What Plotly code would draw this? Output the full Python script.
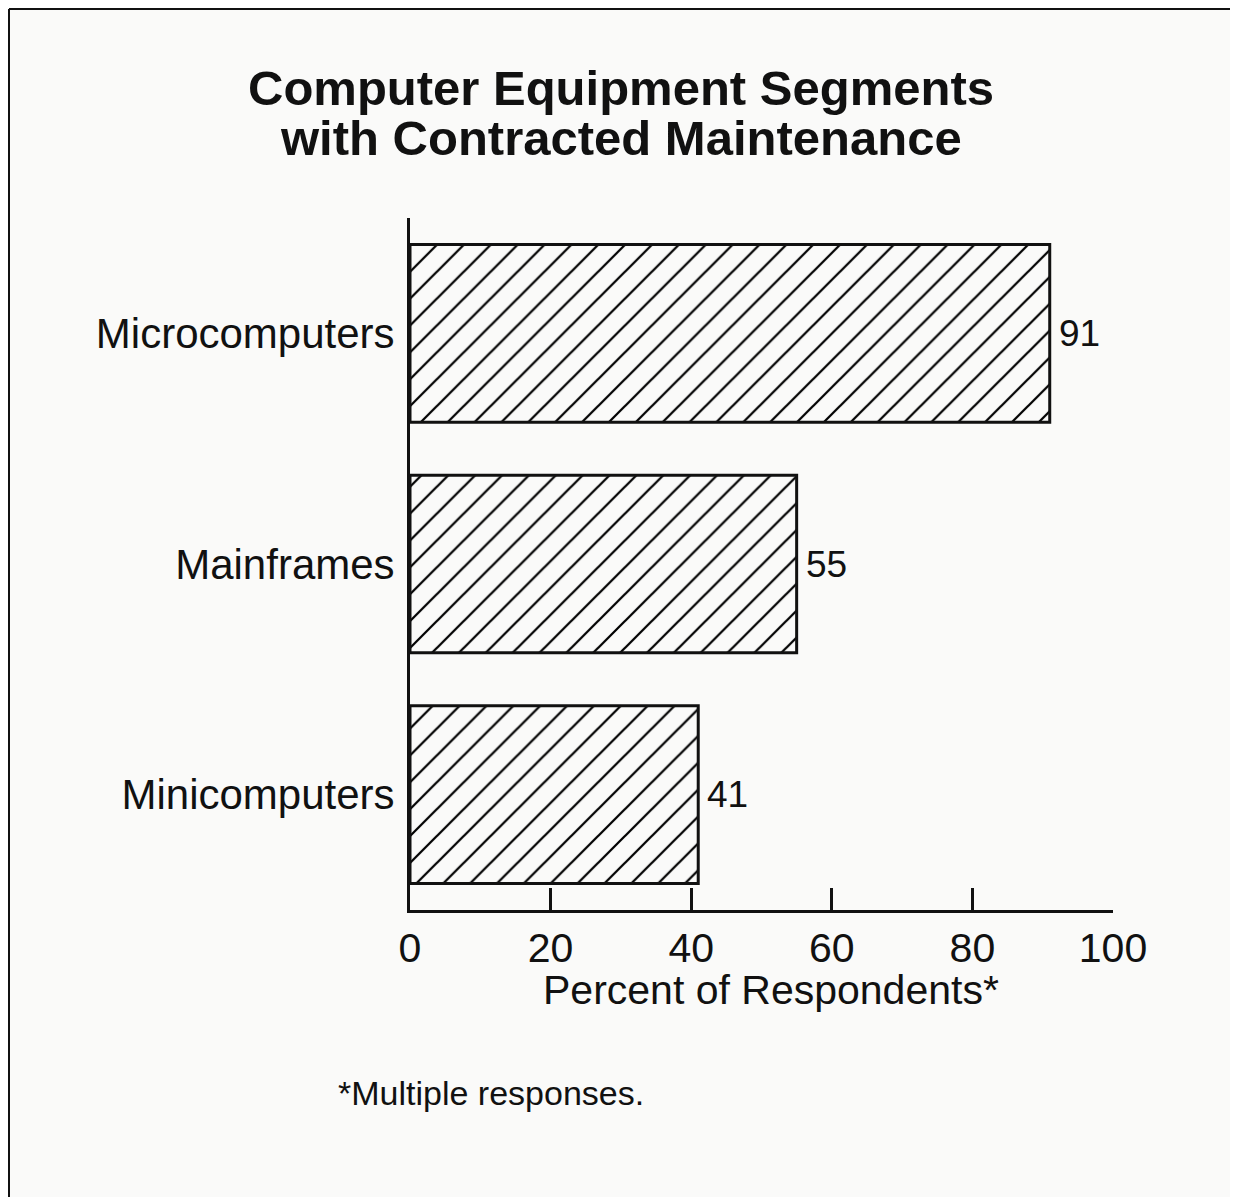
"""Hatched horizontal bar chart: contracted maintenance by equipment segment."""

import plotly.graph_objects as go

CATEGORIES = ["Microcomputers", "Mainframes", "Minicomputers"]
PERCENTS = [91, 55, 41]
X_TICKS = [0, 20, 40, 60, 80, 100]

TITLE_LINES = ["Computer Equipment Segments", "with Contracted Maintenance"]
X_TITLE = "Percent of Respondents*"
FOOTNOTE = "*Multiple responses."

BG = "#fafaf9"
INK = "#111111"
FONT = "Liberation Sans, Arial, Helvetica, sans-serif"

# the page body has an 8px margin, so paper coords = page coords - 8
OFF = 8
W, H = 1238 - OFF, 1197 - OFF
L, R, T, B = 410 - OFF, 125, 218 - OFF, 287
PW, PH = W - L - R, H - T - B


def px_x(x):
    # page pixel -> paper fraction
    return (x - OFF - L) / PW


def px_y(y):
    return (H - B - (y - OFF)) / PH


fig = go.Figure()
fig.add_trace(
    go.Bar(
        x=PERCENTS,
        y=CATEGORIES,
        orientation="h",
        marker={
            "color": BG,
            "line": {"color": INK, "width": 3},
            "pattern": {
                "shape": "/",
                "fgcolor": "#000000",
                "fgopacity": 1,
                "bgcolor": BG,
                "size": 19,
                "solidity": 0.12,
            },
        },
        hoverinfo="skip",
    )
)

annotations = []
for cat, val in zip(CATEGORIES, PERCENTS):
    annotations.append(
        dict(x=val, y=cat, xref="x", yref="y", text=str(val), showarrow=False,
             xanchor="left", xshift=7, font={"size": 37, "color": INK, "family": FONT})
    )
for i, line in enumerate(TITLE_LINES):
    annotations.append(
        dict(x=px_x(621), y=px_y(88 + 50 * i), xref="paper", yref="paper", text=f"<b>{line}</b>",
             showarrow=False, xanchor="center", yanchor="middle",
             font={"size": 49, "color": INK, "family": FONT})
    )
annotations.append(
    dict(x=px_x(771), y=px_y(990), xref="paper", yref="paper", text=X_TITLE, showarrow=False,
         xanchor="center", yanchor="middle", font={"size": 41, "color": INK, "family": FONT})
)
annotations.append(
    dict(x=px_x(336), y=px_y(1093), xref="paper", yref="paper", text=FOOTNOTE, showarrow=False,
         xanchor="left", yanchor="middle", font={"size": 34, "color": INK, "family": FONT})
)

# page frame: top and left edges only, as in the scan
shapes = [
    dict(type="line", xref="paper", yref="paper", x0=px_x(9), x1=px_x(1240), y0=px_y(9), y1=px_y(9),
         line={"color": INK, "width": 2}),
    dict(type="line", xref="paper", yref="paper", x0=px_x(9), x1=px_x(9), y0=px_y(9), y1=px_y(1200),
         line={"color": INK, "width": 2}),
]

fig.update_layout(
    width=W,
    height=H,
    margin={"l": L, "r": R, "t": T, "b": B, "pad": 0},
    paper_bgcolor=BG,
    plot_bgcolor=BG,
    bargap=0.23,
    showlegend=False,
    font={"family": FONT, "color": INK},
    annotations=annotations,
    shapes=shapes,
    xaxis={
        "range": [0, 100],
        "tickvals": X_TICKS,
        "ticks": "inside",
        "ticklen": 22,
        "tickwidth": 3,
        "tickcolor": INK,
        "showline": True,
        "linecolor": INK,
        "linewidth": 3,
        "showgrid": False,
        "zeroline": False,
        "tickfont": {"size": 41, "color": INK},
        "ticklabelstandoff": 0,
    },
    yaxis={
        "categoryorder": "array",
        "categoryarray": CATEGORIES[::-1],
        "range": [-0.5, 2.5],
        "showline": True,
        "linecolor": INK,
        "linewidth": 3,
        "ticks": "",
        "showgrid": False,
        "zeroline": False,
        "tickfont": {"size": 42, "color": INK},
        "ticklabelstandoff": 4,
    },
)

fig.write_html("out.html")
